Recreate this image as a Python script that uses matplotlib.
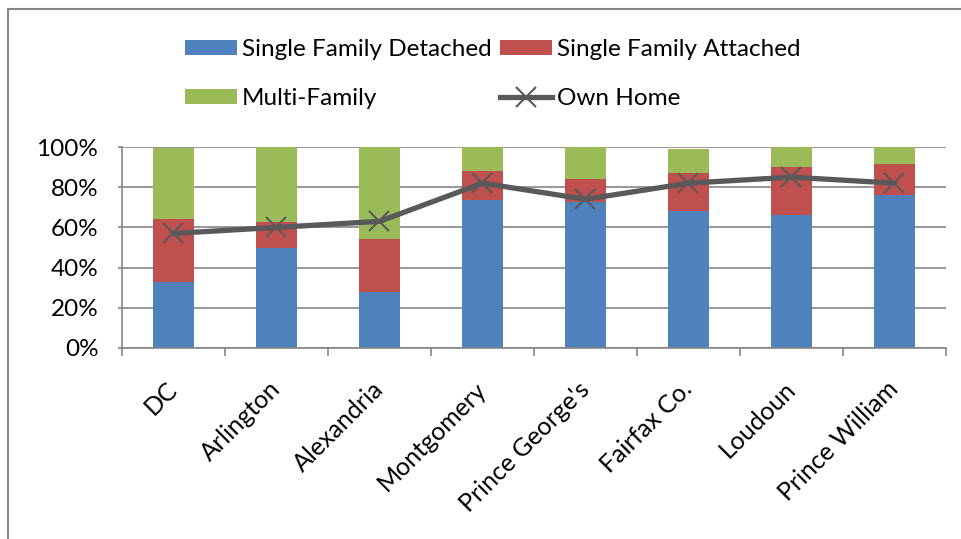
import numpy as np
import matplotlib
matplotlib.use("Agg")
import matplotlib.pyplot as plt
from matplotlib.lines import Line2D
from matplotlib.ticker import PercentFormatter

plt.rcParams['font.family'] = ['Lato', 'DejaVu Sans']

# housing type shares (%) by jurisdiction
cats = ["DC", "Arlington", "Alexandria", "Montgomery", "Prince George's",
        "Fairfax Co.", "Loudoun", "Prince William"]
detached = [33, 50, 28, 73.5, 72.5, 68, 66, 76]
attached = [31, 12.5, 26, 14.5, 11.5, 19, 24, 15.5]
multi = [35.5, 37.5, 46, 12, 16, 12, 10, 8.5]
own_home = [57, 60, 63, 82, 74, 82, 85, 82]

blue = "#4F81BD"
red = "#C0504D"
green = "#9BBB59"
line_col = "#595959"
grid_col = "#868686"

fig = plt.figure(figsize=(9.62, 5.39), dpi=100)
W, H = 962, 539
ax = fig.add_axes([122 / W, 1 - 348 / H, (946 - 122) / W, (348 - 147) / H])

x = np.arange(len(cats))
det = np.array(detached)
att = np.array(attached)
mul = np.array(multi)

b1 = ax.bar(x, det, width=0.4, color=blue, zorder=2)
b2 = ax.bar(x, att, width=0.4, bottom=det, color=red, zorder=2)
b3 = ax.bar(x, mul, width=0.4, bottom=det + att, color=green, zorder=2)
ln, = ax.plot(x, own_home, color=line_col, lw=3.8, marker='x', ms=14,
              mew=1.5, zorder=3)

ax.set_xlim(-0.5, len(cats) - 0.5)
ax.set_ylim(0, 100)
ax.set_yticks(np.arange(0, 101, 20))
ax.yaxis.set_major_formatter(PercentFormatter(decimals=0))
ax.grid(axis='y', color=grid_col, lw=1.2, zorder=0)

ax.set_xticks(x)
ax.set_xticklabels(cats, rotation=45, ha='right', va='center',
                   rotation_mode='anchor')
ax.tick_params(axis='x', which='major', length=0, pad=27, labelsize=18)
ax.set_xticks(np.arange(-0.5, len(cats), 1), minor=True)
ax.tick_params(axis='x', which='minor', length=6, color=grid_col, width=1.2)
ax.tick_params(axis='y', length=3, color=grid_col, width=1.2, labelsize=17.5,
               pad=14)

for s in ['top', 'right']:
    ax.spines[s].set_visible(False)
for s in ['left', 'bottom']:
    ax.spines[s].set_color(grid_col)
    ax.spines[s].set_linewidth(1.2)

handles = [b1, b3, b2, ln]
labels = ["Single Family Detached", "Multi-Family",
          "Single Family Attached", "Own Home"]
fig.legend(handles, labels, loc='upper left',
           bbox_to_anchor=(185 / W, 1 - 39 / H), ncol=2, frameon=False,
           fontsize=17.5, handlelength=2.15, handleheight=0.62,
           handletextpad=0.2, columnspacing=0.33, labelspacing=1.15,
           borderpad=0, borderaxespad=0)

# outer chart frame (partly cropped in the original)
fig.add_artist(Line2D([8 / W, 8 / W, 1], [0, 1 - 9 / H, 1 - 9 / H],
                      color=grid_col, lw=1.5))

fig.savefig("out.png", dpi=100)
